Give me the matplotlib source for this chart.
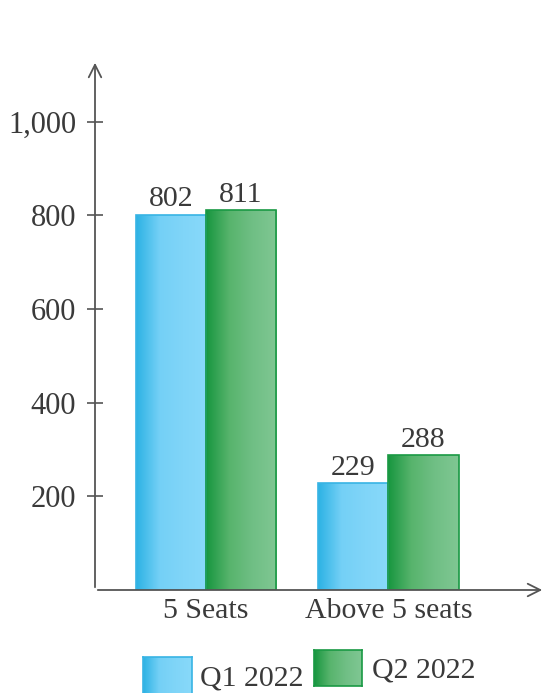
import numpy as np
import matplotlib.pyplot as plt
from matplotlib.colors import LinearSegmentedColormap

categories = ['5 Seats', 'Above 5 seats']
series = ['Q1 2022', 'Q2 2022']
q1_values = [802, 229]
q2_values = [811, 288]
y_ticks = [200, 400, 600, 800, 1000]
y_tick_labels = ['200', '400', '600', '800', '1,000']

plt.rcParams['font.family'] = ['Liberation Serif', 'DejaVu Serif']
text_color = '#3a3a3a'
axis_color = '#555555'
fs = 21.5

blue_cmap = LinearSegmentedColormap.from_list('b', ['#2cb2e4', '#74d0f6', '#80d5f8', '#88d9fa'])
green_cmap = LinearSegmentedColormap.from_list('g', ['#17963f', '#58b46d', '#70bf85', '#80c793'])
edge_colors = ['#38b4e4', '#1a9944']
cmaps = [blue_cmap, green_cmap]
grad = np.linspace(0, 1, 256).reshape(1, -1)

fig = plt.figure(figsize=(5.45, 6.93), dpi=100)
ax = fig.add_axes([95 / 545, 1 - 590 / 693, 450 / 545, 530 / 693])

x = np.arange(len(categories))
w = 0.384
for s, vals in enumerate([q1_values, q2_values]):
    pos = x + (s - 0.5) * w
    bars = ax.bar(pos, vals, width=w, facecolor='none', edgecolor=edge_colors[s],
                  linewidth=1.2, zorder=3)
    for b, v in zip(bars, vals):
        im = ax.imshow(grad, cmap=cmaps[s], aspect='auto', zorder=2,
                       extent=[b.get_x(), b.get_x() + b.get_width(), 0, v])
        im.set_clip_path(b)
        ax.annotate(str(v), (b.get_x() + b.get_width() / 2, v), xytext=(0, 1.5),
                    textcoords='offset points', ha='center', va='bottom',
                    fontsize=fs, color=text_color)

ax.set_xlim(-0.608, 1.858)
ax.set_ylim(0, 1132)

for sp in ax.spines.values():
    sp.set_visible(False)
ax.annotate('', xy=(0, 1), xytext=(0, 0), xycoords='axes fraction',
            arrowprops=dict(arrowstyle='->,head_length=0.9,head_width=0.45',
                            color=axis_color, lw=1.3))
ax.annotate('', xy=(1, 0), xytext=(0, 0), xycoords='axes fraction',
            arrowprops=dict(arrowstyle='->,head_length=0.9,head_width=0.45',
                            color=axis_color, lw=1.3))

ax.set_yticks(y_ticks)
ax.set_yticklabels(y_tick_labels)
ax.set_xticks(x)
ax.set_xticklabels(categories)
ax.tick_params(axis='y', direction='inout', length=11, width=1.2, color=axis_color,
               labelsize=22, labelcolor=text_color, pad=8)
ax.tick_params(axis='x', length=0, labelsize=fs, labelcolor=text_color, pad=6)

# legend
legend_boxes = [[143, 657, 49, 38], [314, 650, 48, 36]]
legend_text_x = [200, 372]
for s, (lx, ly, lw, lh) in enumerate(legend_boxes):
    lax = fig.add_axes([lx / 545, 1 - (ly + lh) / 693, lw / 545, lh / 693])
    lax.imshow(grad, cmap=cmaps[s], aspect='auto', extent=[0, 1, 0, 1])
    for sp in lax.spines.values():
        sp.set_color(edge_colors[s])
        sp.set_linewidth(1.2)
    lax.set_xticks([])
    lax.set_yticks([])
    fig.text(legend_text_x[s] / 545, 1 - (ly + lh / 2 + 2) / 693, series[s],
             fontsize=fs, color=text_color, va='center', ha='left')

fig.savefig('out.png', dpi=100)
